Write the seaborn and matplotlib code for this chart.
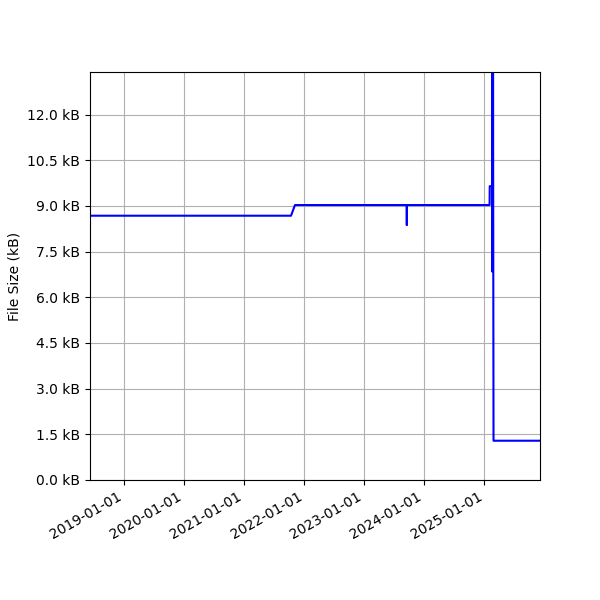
import seaborn as sns
import numpy as np
import pandas as pd
import matplotlib.pyplot as plt
import matplotlib.ticker as mticker

dates = ["2018-06-06", "2021-10-12", "2021-11-05", "2023-09-16", "2023-09-17",
         "2023-09-18", "2025-02-02", "2025-02-03", "2025-02-18", "2025-02-19",
         "2025-02-20", "2025-02-21", "2025-02-22", "2025-02-23", "2025-02-26",
         "2025-12-06"]
sizes = [8680, 8680, 9030, 9030, 8370,
         9030, 9030, 9650, 9650, 13400,
         6840, 13400, 6840, 13400, 1290,
         1290]


def kb_format(value, pos):
    return "{0:.1f} kB".format(value / 1000)


if __name__ == '__main__':

    df = pd.DataFrame({"date": pd.to_datetime(dates), "size": sizes})

    fig, ax = plt.subplots(figsize=(6, 6), dpi=100)
    sns.lineplot(data=df, x="date", y="size", color="blue", linewidth=1.5,
                 estimator=None, sort=False, ax=ax)

    ax.set_xlim(df["date"].min(), df["date"].max())
    ax.set_ylim(0, 13400)
    ax.yaxis.set_major_locator(mticker.MultipleLocator(1500))
    ax.yaxis.set_major_formatter(mticker.FuncFormatter(kb_format))
    ax.xaxis.set_major_formatter(plt.matplotlib.dates.DateFormatter("%Y-%m-%d"))
    ax.xaxis.set_major_locator(plt.matplotlib.dates.YearLocator())
    ax.grid(True)
    ax.set_xlabel("")
    ax.set_ylabel("File Size (kB)")

    fig.autofmt_xdate()
    fig.subplots_adjust(left=0.15, right=0.9, top=0.88, bottom=0.2)
    fig.savefig("out.png", dpi=100)
